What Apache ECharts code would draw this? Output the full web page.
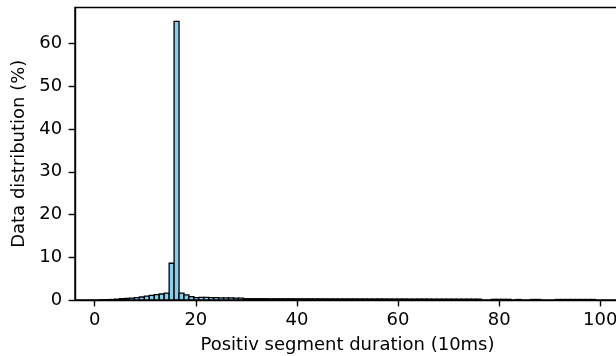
<!DOCTYPE html>
<html>
<head>
<meta charset="utf-8">
<script src="https://cdn.jsdelivr.net/npm/echarts@6/dist/echarts.min.js"></script>
<style>html,body{margin:0;padding:0;background:#fff}#c{width:616px;height:356px}</style>
</head>
<body>
<div id="c"></div>
<script>
// Histogram: 100 bins from 1 to 99 (width 0.98)
var binStart = 1;
var binWidth = 0.98;
var percentages = [
  0.05,0.08,0.12,0.2,0.3,0.35,0.45,0.55,0.7,0.9,
  1.1,1.25,1.4,1.6,8.6,65.2,1.6,1.2,0.8,0.55,
  0.6,0.6,0.55,0.55,0.5,0.5,0.5,0.45,0.45,0.3,
  0.3,0.3,0.3,0.3,0.28,0.28,0.28,0.28,0.28,0.27,
  0.27,0.27,0.27,0.26,0.26,0.26,0.26,0.25,0.25,0.25,
  0.25,0.25,0.24,0.24,0.24,0.24,0.24,0.23,0.23,0.23,
  0.23,0.23,0.22,0.22,0.22,0.22,0.22,0.21,0.21,0.21,
  0.21,0.21,0.2,0.2,0.2,0.2,0.2,0,0,0.15,
  0.15,0.15,0.15,0,0.12,0,0,0.12,0.12,0,
  0,0,0.12,0.12,0.12,0.12,0.12,0.12,0.12,0.12
];
var xTicks = [0, 20, 40, 60, 80, 100];
var yTicks = [0, 10, 20, 30, 40, 50, 60];

var bins = percentages.map(function (v, i) {
  return [binStart + binWidth * i, binStart + binWidth * (i + 1), v];
});
var peak = Math.max.apply(null, percentages);
var xMin = binStart - 0.05 * (binWidth * percentages.length);
var xMax = binStart + binWidth * percentages.length + 0.05 * (binWidth * percentages.length);

var font = 'DejaVu Sans';
var fs = 18;
var chart = echarts.init(document.getElementById('c'), null, {renderer: 'canvas'});
chart.setOption({
  animation: false,
  backgroundColor: '#fff',
  grid: {left: 75, top: 7.5, width: 545, height: 292.5, containLabel: false, outerBoundsMode: 'none',
         show: true, borderColor: '#000', borderWidth: 1.4, backgroundColor: 'transparent'},
  xAxis: {
    type: 'value', min: xMin, max: xMax,
    name: 'Positiv segment duration (10ms)', nameLocation: 'middle', nameGap: 36,
    nameTextStyle: {fontFamily: font, fontSize: fs, color: '#000'},
    axisLine: {show: true, onZero: false, lineStyle: {color: '#000', width: 1.4}},
    axisTick: {show: true, length: 6.4, lineStyle: {color: '#000', width: 1.4}, customValues: xTicks},
    axisLabel: {fontFamily: font, fontSize: fs, color: '#000', margin: 11, customValues: xTicks, hideOverlap: false},
    splitLine: {show: false}
  },
  yAxis: {
    type: 'value', min: 0, max: peak * 1.05,
    name: 'Data distribution (%)', nameLocation: 'middle', nameGap: 47, nameRotate: 90,
    nameTextStyle: {fontFamily: font, fontSize: fs, color: '#000'},
    axisLine: {show: true, onZero: false, lineStyle: {color: '#000', width: 1.4}},
    axisTick: {show: true, length: 6.4, lineStyle: {color: '#000', width: 1.4}, customValues: yTicks},
    axisLabel: {fontFamily: font, fontSize: fs, color: '#000', margin: 12.8, customValues: yTicks},
    splitLine: {show: false}
  },
  series: [{
    type: 'custom',
    data: bins,
    encode: {x: [0, 1], y: 2},
    renderItem: function (params, api) {
      var v = api.value(2);
      if (!v) return null;
      var p0 = api.coord([api.value(0), v]);
      var p1 = api.coord([api.value(1), 0]);
      return {
        type: 'rect',
        shape: {x: p0[0], y: p0[1], width: p1[0] - p0[0], height: p1[1] - p0[1]},
        style: {fill: '#87ceeb', stroke: '#000', lineWidth: 1.3}
      };
    }
  }]
});
</script>
</body>
</html>
